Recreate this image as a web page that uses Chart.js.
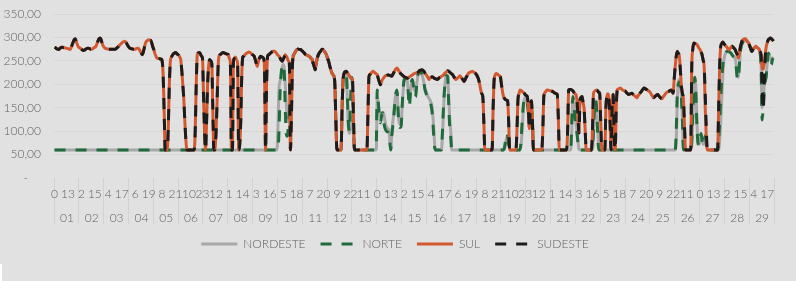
<!DOCTYPE html>
<html><head><meta charset="utf-8">
<script src="https://cdn.jsdelivr.net/npm/chart.js@4.4.1/dist/chart.umd.min.js"></script>
<style>
html,body{margin:0;padding:0;background:#e1e1e1;}
#wrap{position:relative;width:796px;height:281px;overflow:hidden;}
#notch{position:absolute;left:0;top:264px;width:2px;height:17px;background:#ffffff;}
</style></head><body>
<div id="wrap"><canvas id="c" width="796" height="281"></canvas><div id="notch"></div></div>
<script>
const days = ['01','02','03','04','05','06','07','08','09','10','11','12','13','14','15','16','17','18','19','20','21','22','23','24','25','26','27','28','29'];
const hoursOfDay = ['0','1','2','3','4','5','6','7','8','9','10','11','12','13','14','15','16','17','18','19','20','21','22','23'];

const nordeste = [
60,60,60,60,60,60,60,60,60,60,60,60,60,60,60,60,60,60,60,60,60,60,60,60,
60,60,60,60,60,60,60,60,60,60,60,60,60,60,60,60,60,60,60,60,60,60,60,60,
60,60,60,60,60,60,60,60,60,60,60,60,60,60,60,60,60,60,60,60,60,60,60,60,
60,60,60,60,60,60,60,60,60,60,60,60,60,60,60,60,60,60,60,60,60,60,60,60,
60,60,60,60,60,60,60,60,60,60,60,60,60,60,60,60,60,60,60,60,60,60,60,60,
60,60,60,60,60,60,60,60,60,60,60,60,60,60,60,60,60,60,60,60,60,60,60,60,
60,60,60,60,60,60,60,60,60,60,60,60,60,60,60,60,60,60,60,60,60,60,60,60,
60,60,60,60,60,60,60,60,60,60,60,60,60,60,60,60,60,60,60,60,60,60,60,60,
60,60,60,60,60,60,60,60,60,60,60,60,60,60,60,60,60,60,60,60,60,60,60,60,
110,190,206,215,235,242,235,200,160,130,120,140,170,220,255,262,266,270,273,275,275,274,274,272,
270,268,265,263,262,261,260,258,255,253,245,238,231,245,256,263,267,270,273,275,273,270,267,262,
255,249,240,232,225,221,218,200,120,60,60,60,60,60,150,210,220,225,225,170,110,95,110,130,
120,90,60,60,60,60,60,60,60,60,60,60,60,60,60,60,60,60,60,60,60,60,60,60,
175,160,140,130,135,140,140,128,115,108,105,105,85,60,95,120,140,165,180,185,150,120,115,112,
150,185,205,210,212,208,185,165,180,200,208,198,188,185,198,215,224,230,228,222,215,205,192,185,
178,174,170,166,160,150,125,90,60,60,60,60,60,60,60,90,140,185,212,218,217,175,130,100,
60,60,60,60,60,60,60,60,60,60,60,60,60,60,60,60,60,60,60,60,60,60,60,60,
60,60,60,60,60,60,60,60,60,60,60,60,60,60,60,60,60,60,60,60,60,60,60,60,
60,60,60,62,72,85,88,75,60,60,60,60,60,60,60,60,60,60,60,70,100,140,165,172,
168,162,145,120,125,145,115,60,60,60,60,60,60,60,60,60,60,60,60,60,60,60,60,60,
60,60,60,60,60,60,60,60,60,60,60,60,60,60,60,60,60,60,60,60,100,165,165,140,
118,100,80,62,60,60,60,60,60,60,60,60,60,60,60,60,60,90,140,165,155,110,65,60,
60,60,60,60,60,60,60,60,60,60,60,60,60,60,60,60,60,60,60,60,60,60,60,60,
60,60,60,60,60,60,60,60,60,60,60,60,60,60,60,60,60,60,60,60,60,60,60,60,
60,60,60,60,60,60,60,60,60,60,60,60,60,60,60,60,60,60,60,60,60,60,60,60,
60,80,160,205,210,198,175,125,65,60,60,60,60,60,60,60,70,120,190,212,190,120,80,72,
80,92,85,72,72,85,78,60,60,60,60,60,60,60,60,60,60,60,60,80,120,170,220,250,
262,267,270,271,270,268,266,263,260,258,256,240,220,215,240,270,283,288,292,295,295,292,290,288,
282,276,270,274,277,279,281,279,277,275,268,245,150,170,195,210,222,245,265,262,255,248,255,258
];

const norte = [
60,60,60,60,60,60,60,60,60,60,60,60,60,60,60,60,60,60,60,60,60,60,60,60,
60,60,60,60,60,60,60,60,60,60,60,60,60,60,60,60,60,60,60,60,60,60,60,60,
60,60,60,60,60,60,60,60,60,60,60,60,60,60,60,60,60,60,60,60,60,60,60,60,
60,60,60,60,60,60,60,60,60,60,60,60,60,60,60,60,60,60,60,60,60,60,60,60,
60,60,60,60,60,60,60,60,60,60,60,60,60,60,60,60,60,60,60,60,60,60,60,60,
60,60,60,60,60,60,60,60,60,60,60,60,60,60,60,60,60,60,60,60,60,60,60,60,
60,60,60,60,60,60,60,60,60,60,60,60,60,60,60,60,60,60,60,60,60,60,60,60,
60,60,60,60,60,60,60,60,60,60,60,60,60,60,60,60,60,60,60,60,60,60,60,60,
60,60,60,60,60,60,60,60,60,60,60,60,60,60,60,60,60,60,60,60,60,60,60,60,
60,100,180,220,240,242,230,150,95,89,110,140,170,220,255,262,266,270,273,275,275,274,274,272,
270,268,265,263,262,261,260,258,255,253,245,238,231,245,256,263,267,270,273,275,273,270,267,262,
255,249,240,232,225,221,218,200,120,60,60,60,60,60,150,210,220,225,225,180,120,100,150,215,
200,120,60,60,60,60,60,60,60,60,60,60,60,60,60,60,60,60,60,60,60,60,60,70,
188,160,130,118,130,139,125,110,103,100,98,96,80,60,90,110,131,160,180,188,150,110,108,110,
150,190,210,212,212,210,180,152,180,205,210,195,180,173,195,217,225,230,228,222,215,205,190,182,
175,172,168,165,155,140,110,75,60,60,60,60,60,60,60,100,152,190,217,219,217,160,110,88,
60,60,60,60,60,60,60,60,60,60,60,60,60,60,60,60,60,60,60,60,60,60,60,60,
60,60,60,60,60,60,60,60,60,60,60,60,60,60,60,60,60,60,60,60,60,60,60,60,
60,60,60,65,80,95,90,70,60,60,60,60,60,60,60,60,60,60,60,80,120,150,170,170,
165,160,140,110,120,150,120,60,60,60,60,60,60,60,60,60,60,60,60,60,60,60,60,60,
60,60,60,60,60,60,60,60,60,60,60,60,60,60,60,60,60,60,60,60,120,174,160,131,
110,96,75,60,60,60,60,60,60,60,60,60,60,60,60,60,60,100,150,167,150,100,60,60,
60,60,60,60,60,60,60,60,60,60,60,60,60,60,60,60,60,60,60,60,60,60,60,60,
60,60,60,60,60,60,60,60,60,60,60,60,60,60,60,60,60,60,60,60,60,60,60,60,
60,60,60,60,60,60,60,60,60,60,60,60,60,60,60,60,60,60,60,60,60,60,60,60,
60,100,181,200,205,195,170,120,60,60,60,60,60,60,60,60,80,140,200,215,180,110,75,70,
85,95,80,70,75,90,75,60,60,60,60,60,60,60,60,60,60,60,80,120,170,210,240,256,
262,267,270,271,270,268,266,263,260,258,256,235,213,210,240,270,283,288,292,295,295,292,290,288,
282,276,270,274,277,279,281,279,277,275,268,238,124,150,190,205,217,245,267,262,250,242,253,255
];

const sul = [
279,278,276,275,274,276,278,279,279,278,278,277,277,276,275,274,278,284,290,295,297,292,285,280,
278,277,275,273,272,273,275,276,277,277,276,275,275,276,278,279,281,286,292,297,299,295,288,282,
279,277,276,276,275,275,275,275,275,275,275,275,277,279,281,284,286,288,290,291,292,290,286,282,
279,277,276,276,275,275,275,276,277,277,274,270,266,263,270,280,288,292,294,295,294,294,288,280,
274,266,260,256,255,255,254,254,250,220,140,60,60,60,110,200,250,258,262,265,267,268,266,264,
262,258,253,230,200,167,120,80,60,60,60,60,60,60,60,60,100,200,263,267,268,265,260,256,
180,100,60,120,200,240,253,250,245,150,60,60,90,150,230,260,263,265,267,268,267,266,265,264,
263,255,245,60,60,250,256,258,252,245,60,70,120,220,258,260,263,265,267,268,269,268,266,264,
262,260,253,245,238,248,255,260,259,258,256,230,60,200,260,263,265,267,269,270,271,270,268,265,
262,260,256,252,249,253,258,263,260,256,250,245,60,130,240,260,266,270,273,275,275,274,274,272,
270,268,265,263,262,261,260,258,255,253,245,238,231,245,256,263,267,270,273,275,273,270,267,262,
255,249,240,232,225,221,218,200,120,60,60,60,60,60,150,210,224,227,228,225,222,218,215,212,
210,130,60,60,60,60,60,60,60,60,60,60,60,60,60,140,217,221,224,226,228,226,224,222,
220,212,205,199,205,210,213,216,218,219,220,220,219,218,217,221,225,229,233,235,232,228,225,222,
220,218,216,215,214,213,214,216,217,219,220,222,223,224,224,225,227,229,230,231,230,228,224,221,
218,214,210,214,215,216,215,213,212,211,210,212,214,215,217,218,220,223,225,227,229,228,226,224,
222,220,216,213,210,212,214,216,218,215,212,209,206,210,215,219,223,225,226,227,228,226,225,223,
220,216,210,200,188,180,174,120,60,60,60,60,60,60,60,60,150,210,220,223,222,220,218,216,
200,185,174,170,167,166,165,120,60,60,60,60,60,60,60,100,167,180,188,187,185,183,181,178,
176,174,150,105,150,165,120,60,60,60,60,60,60,60,60,60,100,174,182,185,188,188,187,186,
186,185,184,182,181,180,178,130,60,60,60,60,60,60,60,60,100,188,189,189,188,186,183,180,
178,167,130,96,167,172,174,160,146,100,60,60,60,60,60,60,100,181,185,187,188,186,183,180,
120,60,60,60,60,150,174,180,170,120,60,150,178,90,60,150,188,190,191,192,190,188,187,186,
185,182,180,178,179,180,181,179,177,175,173,171,175,178,181,184,187,190,192,191,189,188,186,185,
182,178,175,171,173,175,177,178,176,173,171,169,172,175,178,181,183,184,185,187,188,185,181,210,
238,260,270,266,260,230,196,180,167,110,60,60,60,60,60,60,238,275,288,287,286,285,281,277,
274,269,263,252,238,150,90,60,60,60,60,60,60,60,60,60,60,60,150,240,281,287,290,287,
284,281,279,276,274,276,279,281,279,277,274,268,263,256,265,280,288,294,296,297,297,294,291,288,
282,276,270,274,277,279,281,279,277,275,270,263,238,232,245,263,280,289,295,297,299,297,295,292
];

const sudeste = [
279,278,276,275,274,276,278,279,279,278,278,277,277,276,275,274,278,284,290,295,297,292,285,280,
278,277,275,273,272,273,275,276,277,277,276,275,275,276,278,279,281,286,292,297,299,295,288,282,
279,277,276,276,275,275,275,275,275,275,275,275,277,279,281,284,286,288,290,291,292,290,286,282,
279,277,276,276,275,275,275,276,277,277,274,270,266,263,270,280,288,292,294,295,294,294,288,280,
274,266,260,256,255,255,254,254,250,220,140,60,60,60,110,200,250,258,262,265,267,268,266,264,
262,258,253,230,200,167,120,80,60,60,60,60,60,60,60,60,100,200,263,267,268,265,260,256,
180,100,60,120,200,240,253,250,245,150,60,60,90,150,230,260,263,265,267,268,267,266,265,264,
263,255,245,60,60,250,256,258,252,245,60,70,120,220,258,260,263,265,267,268,269,268,266,264,
262,260,253,245,238,248,255,260,259,258,256,230,60,200,260,263,265,267,269,270,271,270,268,265,
262,260,256,252,249,253,258,263,260,256,250,245,60,130,240,260,266,270,273,275,275,274,274,272,
270,268,265,263,262,261,260,258,255,253,245,238,231,245,256,263,267,270,273,275,273,270,267,262,
255,249,240,232,225,221,218,200,120,60,60,60,60,60,150,210,224,227,228,225,222,218,215,212,
210,130,60,60,60,60,60,60,60,60,60,60,60,60,60,140,217,221,224,226,228,226,224,222,
220,212,205,199,205,210,213,216,218,219,220,220,219,218,217,221,225,229,233,235,232,228,225,222,
220,218,216,215,214,213,214,216,217,219,220,222,223,224,224,225,227,229,230,231,230,228,224,221,
218,214,210,214,215,216,215,213,212,211,210,212,214,215,217,218,220,223,225,227,229,228,226,224,
222,220,216,213,210,212,214,216,218,215,212,209,206,210,215,219,223,225,226,227,228,226,225,223,
220,216,210,200,188,180,174,120,60,60,60,60,60,60,60,60,150,210,220,223,222,220,218,216,
200,185,174,170,167,166,165,120,60,60,60,60,60,60,60,100,167,180,188,187,185,183,181,178,
176,174,150,105,150,165,120,60,60,60,60,60,60,60,60,60,100,174,182,185,188,188,187,186,
186,185,184,182,181,180,178,130,60,60,60,60,60,60,60,60,100,188,189,189,188,186,183,180,
178,167,130,96,167,172,174,160,146,100,60,60,60,60,60,60,100,181,185,187,188,186,183,180,
120,60,60,60,60,150,174,180,170,120,60,150,178,90,60,150,188,190,191,192,190,188,187,186,
185,182,180,178,179,180,181,179,177,175,173,171,175,178,181,184,187,190,192,191,189,188,186,185,
182,178,175,171,173,175,177,178,176,173,171,169,172,175,178,181,183,184,185,187,188,185,181,210,
238,260,270,266,260,230,196,180,167,110,60,60,60,60,60,60,238,275,288,287,286,285,281,277,
274,269,263,252,238,180,110,60,60,60,60,60,60,60,60,60,60,60,150,240,281,287,290,287,
284,281,279,276,274,276,279,281,279,277,274,268,263,256,265,280,288,294,296,297,297,294,291,288,
282,276,270,274,277,279,281,279,277,275,270,263,200,146,190,255,280,289,295,297,299,297,295,292
];

const FONT = 'Lato';
const TXT = '#5f5f5f';

const labels = [];
days.forEach(function(d){ hoursOfDay.forEach(function(h){ labels.push(h); }); });

function hourTick(val, i) {
  const top = (i % 13 === 0) ? labels[i] : '';
  const bottom = (i % 24 === 12) ? days[Math.floor(i / 24)] : '';
  return [top, bottom];
}

const legendShift = {
  id: 'legendShift',
  afterLayout: function(chart) {
    const l = chart.legend;
    if (l) { l.left += 8; l.right += 8; l.top -= 5; l.bottom -= 5; }
  }
};

new Chart(document.getElementById('c'), {
  type: 'line',
  plugins: [legendShift],
  data: {
    labels: labels,
    datasets: [
      {label:'NORDESTE', data:nordeste, borderColor:'#a8a8a8', backgroundColor:'#a8a8a8', borderWidth:3, order:4},
      {label:'NORTE', data:norte, borderColor:'#1f6b3b', backgroundColor:'#1f6b3b', borderWidth:3, borderDash:[11,10], order:3},
      {label:'SUL', data:sul, borderColor:'#d2582f', backgroundColor:'#d2582f', borderWidth:3, order:2},
      {label:'SUDESTE', data:sudeste, borderColor:'#1c1c1c', backgroundColor:'#1c1c1c', borderWidth:3, borderDash:[11,10], order:1}
    ]
  },
  options: {
    responsive: false,
    animation: false,
    layout: {padding: {left: 0, right: 22, top: 14, bottom: 16}},
    elements: {
      point: {radius: 0, hoverRadius: 0},
      line: {tension: 0.4, cubicInterpolationMode: 'monotone', borderCapStyle: 'butt', borderJoinStyle: 'round'}
    },
    scales: {
      x: {
        type: 'category',
        offset: true,
        border: {display: false},
        grid: {
          display: true, drawOnChartArea: false, drawTicks: true, tickLength: 46, offset: true, lineWidth: 1,
          color: function(c){ return (c.index === undefined || c.index % 24 === 0) ? '#d2d2d2' : 'rgba(0,0,0,0)'; }
        },
        ticks: {
          autoSkip: false, maxRotation: 0, minRotation: 0, padding: -42,
          font: {family: FONT, size: 12, weight: 300, lineHeight: 2.0}, color: TXT,
          callback: hourTick
        },
        afterFit: function(s){ s.height = 50; }
      },
      y: {
        min: 0, max: 350,
        border: {display: false},
        grid: {
          drawTicks: true, tickLength: 13, tickColor: 'rgba(0,0,0,0)',
          color: function(c){ return (c.tick && c.tick.value === 0) ? 'rgba(0,0,0,0)' : '#d7d7d7'; }
        },
        ticks: {
          stepSize: 50, padding: 0,
          font: {family: FONT, size: 12, weight: 300}, color: TXT,
          callback: function(v){ return v === 0 ? '-    ' : v.toFixed(2).replace('.', ','); }
        },
        afterFit: function(s){ s.width = 54; }
      }
    },
    plugins: {
      legend: {
        position: 'bottom',
        labels: {
          usePointStyle: true, pointStyle: 'line', pointStyleWidth: 36, padding: 15,
          font: {family: FONT, size: 12, weight: 300}, color: TXT,
          generateLabels: function(chart) {
            return chart.data.datasets.map(function(ds, i) {
              return {
                text: ds.label, fillStyle: ds.borderColor, strokeStyle: ds.borderColor,
                lineWidth: 3, lineDash: ds.borderDash || [], lineCap: 'butt', lineJoin: 'miter',
                pointStyle: 'line', hidden: false, datasetIndex: i, fontColor: TXT
              };
            });
          }
        }
      },
      tooltip: {enabled: false}
    }
  }
});
</script>
</body></html>
